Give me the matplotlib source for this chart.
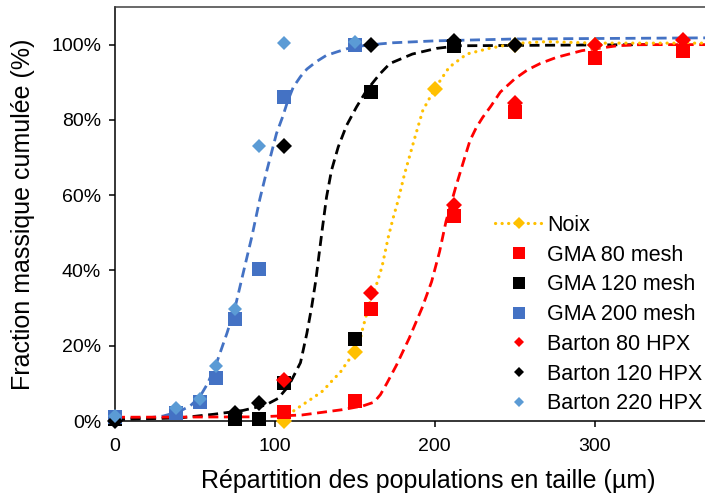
import matplotlib
matplotlib.use("Agg")
import matplotlib.pyplot as plt
from matplotlib.lines import Line2D
from matplotlib.ticker import PercentFormatter, FixedLocator

plt.rcParams['font.family'] = ['Liberation Sans', 'DejaVu Sans']

# ---------------- data ----------------
noix_x = [106, 150, 200, 250, 300]
noix_y = [0.0, 0.183, 0.883, 1.0, 1.0]

gma80_x = [106, 150, 160, 212, 250, 300, 355]
gma80_y = [0.024, 0.053, 0.297, 0.545, 0.82, 0.965, 0.984]

gma120_x = [0, 75, 90, 106, 150, 160, 212]
gma120_y = [0.005, 0.006, 0.006, 0.10, 0.217, 0.873, 0.997]

gma200_x = [0, 38, 53, 63, 75, 90, 106, 150]
gma200_y = [0.01, 0.02, 0.05, 0.115, 0.272, 0.405, 0.862, 1.0]

barton80_x = [106, 160, 212, 250, 300, 355]
barton80_y = [0.11, 0.34, 0.573, 0.846, 1.0, 1.013]

barton120_x = [0, 75, 90, 106, 160, 212, 250]
barton120_y = [0.0, 0.02, 0.048, 0.732, 1.0, 1.01, 1.0]

barton220_x = [0, 38, 53, 63, 75, 90, 106, 150]
barton220_y = [0.012, 0.035, 0.058, 0.146, 0.298, 0.73, 1.005, 1.008]

# smoothed Noix line
noix_curve_x = [106, 112, 118, 124, 130, 136, 141, 145, 150, 153, 155, 159, 163, 167,
                171, 174, 177, 181, 184, 188, 192.5, 200, 209, 220, 234, 250, 270, 300, 369]
noix_curve_y = [0.0, 0.028, 0.045, 0.062, 0.08, 0.108, 0.13, 0.155, 0.183, 0.21, 0.247,
                0.31, 0.355, 0.41, 0.49, 0.54, 0.585, 0.655, 0.70, 0.76, 0.825, 0.883,
                0.94, 0.975, 0.99, 1.003, 1.008, 1.004, 1.004]

# fitted curves
fit80_x = [0, 90, 117, 142, 155, 162, 166, 170, 176, 184, 192, 198, 203, 207, 213, 218,
           222, 226, 230, 235, 241, 250, 258, 266, 276, 292, 314, 328, 369]
fit80_y = [0.010, 0.011, 0.016, 0.030, 0.040, 0.050, 0.070, 0.10, 0.148, 0.22, 0.30,
           0.37, 0.45, 0.53, 0.62, 0.69, 0.745, 0.78, 0.807, 0.836, 0.874, 0.909,
           0.933, 0.95, 0.966, 0.984, 0.997, 1.0, 1.0]

fit120_x = [0, 40, 62, 80, 94, 102, 107, 110, 116, 120, 123, 125.6, 127.7, 129.8, 132.3,
            135.4, 139.6, 144.8, 151, 157.3, 165.6, 172, 186, 201, 215, 333]
fit120_y = [0.004, 0.008, 0.018, 0.028, 0.042, 0.06, 0.085, 0.105, 0.155, 0.233, 0.303,
            0.374, 0.445, 0.515, 0.595, 0.666, 0.728, 0.785, 0.834, 0.878, 0.922, 0.95,
            0.975, 0.99, 0.997, 1.0]

fit200_x = [0, 20, 30, 40, 47, 53, 58, 64, 70, 75, 80, 85.6, 90.6, 95, 101, 105, 108,
            111.5, 116, 120, 126, 132, 139, 145, 155, 166, 174, 200, 250, 369]
fit200_y = [0.005, 0.008, 0.013, 0.025, 0.04, 0.064, 0.10, 0.16, 0.233, 0.30, 0.39,
            0.49, 0.59, 0.666, 0.764, 0.81, 0.85, 0.887, 0.915, 0.935, 0.955, 0.971,
            0.981, 0.989, 0.997, 1.002, 1.005, 1.01, 1.015, 1.018]

x_ticks = [0, 100, 200, 300]
y_ticks = [0, 0.2, 0.4, 0.6, 0.8, 1.0]

RED = '#FF0000'
BLACK = '#000000'
BLUE = '#4472C4'
LBLUE = '#5B9BD5'
YELLOW = '#FFC000'

# ---------------- figure ----------------
W, H = 705, 497
fig = plt.figure(figsize=(W / 100, H / 100), dpi=100)
ax = fig.add_axes([115 / W, 1 - 421 / H, 590 / W, 414 / H])
ax.set_xlim(0, 369)
ax.set_ylim(0, 1.1)

dash = (0, (3.6, 2.0))
ax.plot(fit200_x, fit200_y, color=BLUE, lw=2.0, linestyle=dash, zorder=2, clip_on=False)
ax.plot(fit120_x, fit120_y, color=BLACK, lw=2.0, linestyle=dash, zorder=2, clip_on=False)
ax.plot(fit80_x, fit80_y, color=RED, lw=2.0, linestyle=dash, zorder=2, clip_on=False)
ax.plot(noix_curve_x, noix_curve_y, color=YELLOW, lw=2.3, linestyle=(0, (0.05, 2.1)),
        dash_capstyle='round', zorder=2)

mk = dict(linestyle='none', markeredgewidth=0, zorder=3, clip_on=False)
ax.plot(noix_x, noix_y, marker='D', markersize=8.2, color=YELLOW, **mk)
ax.plot(gma80_x, gma80_y, marker='s', markersize=10, color=RED, **mk)
ax.plot(gma120_x, gma120_y, marker='s', markersize=10, color=BLACK, **mk)
ax.plot(gma200_x, gma200_y, marker='s', markersize=10, color=BLUE, **mk)
ax.plot(barton80_x, barton80_y, marker='D', markersize=8.2, color=RED, **mk)
ax.plot(barton120_x, barton120_y, marker='D', markersize=8.2, color=BLACK, **mk)
ax.plot(barton220_x, barton220_y, marker='D', markersize=7.2, color=LBLUE, **mk)

# axes styling
for side in ['left', 'bottom', 'top']:
    ax.spines[side].set_color('black')
    ax.spines[side].set_linewidth(1.1)
ax.spines['right'].set_visible(False)
ax.spines['top'].set_color('#404040')

ax.xaxis.set_major_locator(FixedLocator(x_ticks))
ax.yaxis.set_major_locator(FixedLocator(y_ticks))
ax.yaxis.set_major_formatter(PercentFormatter(1.0, decimals=0))
ax.tick_params(axis='both', direction='out', length=4, width=1.1, labelsize=14,
               colors='black')
ax.tick_params(axis='x', pad=8)
ax.tick_params(axis='y', pad=6)

ax.set_xlabel('Répartition des populations en taille (µm)', fontsize=18)
ax.set_ylabel('Fraction massique cumulée (%)', fontsize=18)
ax.xaxis.set_label_coords((428 - 115) / 590, -(481 - 421) / 414, transform=ax.transAxes)
ax.xaxis.label.set_va('center')
ax.yaxis.set_label_coords(-(115 - 23) / 590, 0.5, transform=ax.transAxes)
ax.yaxis.label.set_va('center')

# legend
handles = [
    Line2D([], [], color=YELLOW, lw=2.3, linestyle=(0, (0.05, 2.0)), dash_capstyle='round',
           marker='D', markersize=6, markeredgewidth=0),
    Line2D([], [], linestyle='none', marker='s', markersize=8, color=RED, markeredgewidth=0),
    Line2D([], [], linestyle='none', marker='s', markersize=8, color=BLACK, markeredgewidth=0),
    Line2D([], [], linestyle='none', marker='s', markersize=8, color=BLUE, markeredgewidth=0),
    Line2D([], [], linestyle='none', marker='D', markersize=5.5, color=RED, markeredgewidth=0),
    Line2D([], [], linestyle='none', marker='D', markersize=5.5, color=BLACK, markeredgewidth=0),
    Line2D([], [], linestyle='none', marker='D', markersize=5.5, color=LBLUE, markeredgewidth=0),
]
labels = ['Noix', 'GMA 80 mesh', 'GMA 120 mesh', 'GMA 200 mesh',
          'Barton 80 HPX', 'Barton 120 HPX', 'Barton 220 HPX']
fig.legend(handles, labels, loc='upper left', bbox_to_anchor=(495 / W, 1 - 215 / H),
           frameon=False, fontsize=15.5, handlelength=2.23, handletextpad=0.19,
           labelspacing=0.405, borderpad=0, borderaxespad=0)

fig.savefig('out.png', dpi=100)
